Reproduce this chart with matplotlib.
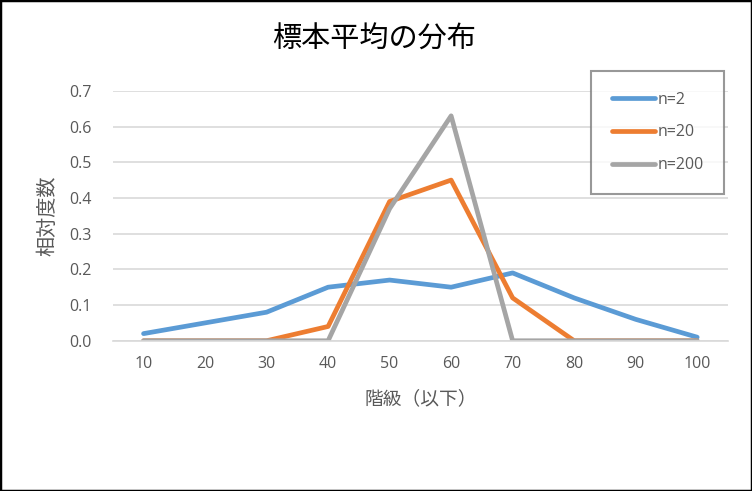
import matplotlib.pyplot as plt
from matplotlib.patches import Rectangle

plt.rcParams['font.family'] = ['Open Sans', 'Noto Sans CJK JP', 'DejaVu Sans']

classes = [10, 20, 30, 40, 50, 60, 70, 80, 90, 100]
n2 = [0.02, 0.05, 0.08, 0.15, 0.17, 0.15, 0.19, 0.12, 0.06, 0.01]
n20 = [0, 0, 0, 0.04, 0.39, 0.45, 0.12, 0, 0, 0]
n200 = [0, 0, 0, 0, 0.37, 0.63, 0, 0, 0, 0]
labels = ['n=2', 'n=20', 'n=200']
colors = ['#5B9BD5', '#ED7D31', '#A5A5A5']
text_color = '#595959'


def main():
    fig = plt.figure(figsize=(7.52, 4.91), dpi=100)
    ax = fig.add_axes([0.150, 0.306, 0.818, 0.509])

    pos = list(range(len(classes)))
    for ys, lab, c in zip([n2, n20, n200], labels, colors):
        ax.plot(pos, ys, color=c, linewidth=3.4, label=lab,
                solid_joinstyle='round', solid_capstyle='round')

    ax.set_xlim(-0.5, len(classes) - 0.5)
    ax.set_ylim(0, 0.7)
    ax.set_xticks(pos)
    ax.set_xticklabels([str(c) for c in classes])
    ax.set_yticks([i / 10 for i in range(8)])
    ax.set_yticklabels([f'{i / 10:.1f}' for i in range(8)])
    ax.tick_params(length=0, labelsize=11.5, colors=text_color)
    ax.tick_params(axis='x', pad=11)
    ax.tick_params(axis='y', pad=15)

    ax.grid(axis='y', color='#D9D9D9', linewidth=1.2)
    ax.set_axisbelow(True)
    for s in ['top', 'right', 'left']:
        ax.spines[s].set_visible(False)
    ax.spines['bottom'].set_color('#D9D9D9')
    ax.spines['bottom'].set_linewidth(1.2)

    fig.text(0.497, 0.918, '標本平均の分布', fontsize=21, color='#000000',
             ha='center', va='center')
    ax.set_xlabel('階級（以下）', fontsize=13.5, color=text_color, labelpad=13)
    ax.set_ylabel('相対度数', fontsize=14.5, color=text_color, labelpad=8)

    leg = ax.legend(loc='upper right', bbox_to_anchor=(0.994, 1.08),
                    frameon=True, fancybox=False, fontsize=11.5,
                    handlelength=2.7, handletextpad=0.15, labelspacing=1.05,
                    borderpad=1.3, borderaxespad=0)
    leg.get_frame().set_edgecolor('#7F7F7F')
    leg.get_frame().set_linewidth(1.5)
    for t in leg.get_texts():
        t.set_color(text_color)

    fig.patches.append(Rectangle((0, 0), 1, 1, transform=fig.transFigure,
                                 fill=False, edgecolor='black', linewidth=2.5))

    fig.savefig('out.png', dpi=100)


if __name__ == '__main__':
    main()
